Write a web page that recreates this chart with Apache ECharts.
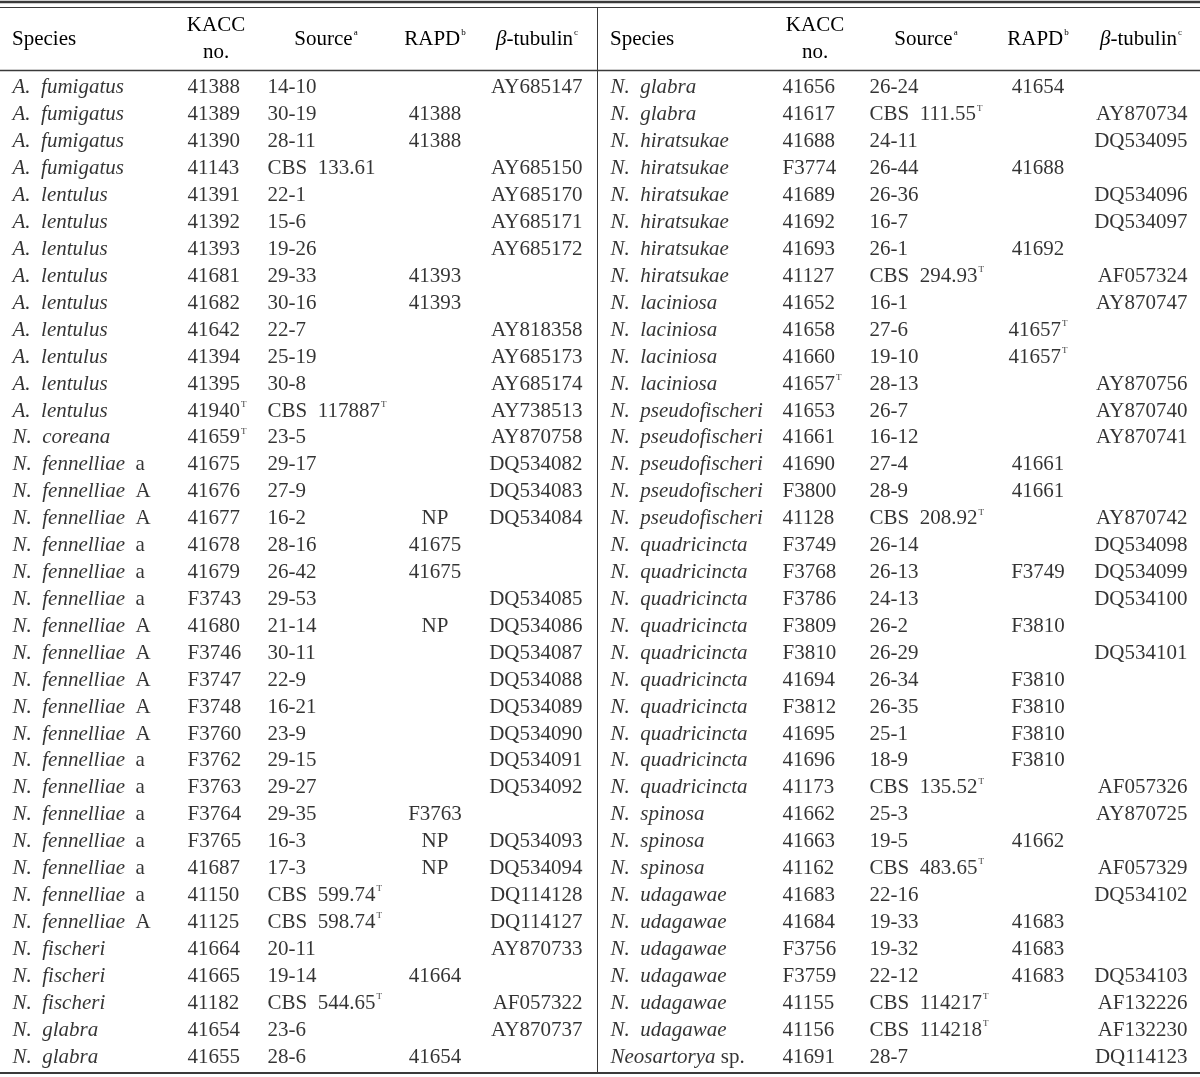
<!DOCTYPE html>
<html><head><meta charset="utf-8">
<script src="https://cdn.jsdelivr.net/npm/echarts@6/dist/echarts.min.js"></script>
<style>html,body{margin:0;padding:0;background:#fff}#c{width:1200px;height:1077px}</style>
</head><body><div id="c"></div>
<script>
// ---- data (left half) ----
const leftSpecies = [
 'A.  fumigatus','A.  fumigatus','A.  fumigatus','A.  fumigatus',
 'A.  lentulus','A.  lentulus','A.  lentulus','A.  lentulus','A.  lentulus','A.  lentulus','A.  lentulus','A.  lentulus','A.  lentulus',
 'N.  coreana',
 'N.  fennelliae|a','N.  fennelliae|A','N.  fennelliae|A','N.  fennelliae|a','N.  fennelliae|a','N.  fennelliae|a','N.  fennelliae|A','N.  fennelliae|A','N.  fennelliae|A','N.  fennelliae|A','N.  fennelliae|A','N.  fennelliae|a','N.  fennelliae|a','N.  fennelliae|a','N.  fennelliae|a','N.  fennelliae|a','N.  fennelliae|a','N.  fennelliae|A',
 'N.  fischeri','N.  fischeri','N.  fischeri',
 'N.  glabra','N.  glabra'];
const leftKacc = ['41388','41389','41390','41143','41391','41392','41393','41681','41682','41642','41394','41395','41940^T','41659^T','41675','41676','41677','41678','41679','F3743','41680','F3746','F3747','F3748','F3760','F3762','F3763','F3764','F3765','41687','41150','41125','41664','41665','41182','41654','41655'];
const leftSource = ['14-10','30-19','28-11','CBS  133.61','22-1','15-6','19-26','29-33','30-16','22-7','25-19','30-8','CBS  117887^T','23-5','29-17','27-9','16-2','28-16','26-42','29-53','21-14','30-11','22-9','16-21','23-9','29-15','29-27','29-35','16-3','17-3','CBS  599.74^T','CBS  598.74^T','20-11','19-14','CBS  544.65^T','23-6','28-6'];
const leftRapd = ['','41388','41388','','','','','41393','41393','','','','','','','','NP','41675','41675','','NP','','','','','','','F3763','NP','NP','','','','41664','','','41654'];
const leftTub = ['AY685147','','','AY685150','AY685170','AY685171','AY685172','','','AY818358','AY685173','AY685174','AY738513','AY870758','DQ534082','DQ534083','DQ534084','','','DQ534085','DQ534086','DQ534087','DQ534088','DQ534089','DQ534090','DQ534091','DQ534092','','DQ534093','DQ534094','DQ114128','DQ114127','AY870733','','AF057322','AY870737',''];
// ---- data (right half) ----
const rightSpecies = [
 'N.  glabra','N.  glabra',
 'N.  hiratsukae','N.  hiratsukae','N.  hiratsukae','N.  hiratsukae','N.  hiratsukae','N.  hiratsukae',
 'N.  laciniosa','N.  laciniosa','N.  laciniosa','N.  laciniosa',
 'N.  pseudofischeri','N.  pseudofischeri','N.  pseudofischeri','N.  pseudofischeri','N.  pseudofischeri',
 'N.  quadricincta','N.  quadricincta','N.  quadricincta','N.  quadricincta','N.  quadricincta','N.  quadricincta','N.  quadricincta','N.  quadricincta','N.  quadricincta','N.  quadricincta',
 'N.  spinosa','N.  spinosa','N.  spinosa',
 'N.  udagawae','N.  udagawae','N.  udagawae','N.  udagawae','N.  udagawae','N.  udagawae',
 'Neosartorya| sp.'];
const rightKacc = ['41656','41617','41688','F3774','41689','41692','41693','41127','41652','41658','41660','41657^T','41653','41661','41690','F3800','41128','F3749','F3768','F3786','F3809','F3810','41694','F3812','41695','41696','41173','41662','41663','41162','41683','41684','F3756','F3759','41155','41156','41691'];
const rightSource = ['26-24','CBS  111.55^T','24-11','26-44','26-36','16-7','26-1','CBS  294.93^T','16-1','27-6','19-10','28-13','26-7','16-12','27-4','28-9','CBS  208.92^T','26-14','26-13','24-13','26-2','26-29','26-34','26-35','25-1','18-9','CBS  135.52^T','25-3','19-5','CBS  483.65^T','22-16','19-33','19-32','22-12','CBS  114217^T','CBS  114218^T','28-7'];
const rightRapd = ['41654','','','41688','','','41692','','','41657^T','41657^T','','','','41661','41661','','','F3749','','F3810','','F3810','F3810','F3810','F3810','','','41662','','','41683','41683','41683','','',''];
const rightTub = ['','AY870734','DQ534095','','DQ534096','DQ534097','','AF057324','AY870747','','','AY870756','AY870740','AY870741','','','AY870742','DQ534098','DQ534099','DQ534100','','DQ534101','','','','','AF057326','AY870725','','AF057329','DQ534102','','','DQ534103','AF132226','AF132230','DQ114123'];
const headerLabels = ['Species','KACC|no.','Source^a','RAPD^b','β-tubulin^c'];

// ---- layout ----
const FONT = '"Liberation Serif","Times New Roman",serif';
const FS = 21;
const COLOR = '#000';
const LINE = '#3a3a3a';
const rich = {
  n: {fontFamily: FONT, fontSize: FS, color: COLOR, lineHeight: 22},
  i: {fontFamily: FONT, fontSize: FS, color: COLOR, fontStyle: 'italic', lineHeight: 22},
  s: {fontFamily: FONT, fontSize: 9, color: COLOR, lineHeight: 20, verticalAlign: 'top', padding: [0, 0, 0, 1]}
};
function fmtSpecies(v) {
  const p = v.split('|');
  return '{i|' + p[0] + '}' + (p[1] ? '{n|' + (p[1][0] === ' ' ? p[1] : '  ' + p[1]) + '}' : '');
}
function fmtPlain(v) {
  if (!v) return '';
  const p = v.split('^');
  return '{n|' + p[0] + '}' + (p[1] ? '{s|' + p[1] + '}' : '');
}
// column anchors: [x, position, formatter]
const halves = [
  {cols: [[12,'right',fmtSpecies],[187,'right',fmtPlain],[267,'right',fmtPlain],[435,'inside',fmtPlain],[583,'left',fmtPlain]],
   data: [leftSpecies, leftKacc, leftSource, leftRapd, leftTub],
   head: [12, 216, 326, 435, 537]},
  {cols: [[610,'right',fmtSpecies],[782,'right',fmtPlain],[869,'right',fmtPlain],[1038,'inside',fmtPlain],[1188,'left',fmtPlain]],
   data: [rightSpecies, rightKacc, rightSource, rightRapd, rightTub],
   head: [610, 815, 926, 1038, 1141]}
];
const rows = leftSpecies.map((_, i) => String(i));
const series = [];
halves.forEach(h => {
  h.cols.forEach((c, ci) => {
    const arr = h.data[ci];
    series.push({
      type: 'scatter', symbolSize: 1, silent: true,
      itemStyle: {color: 'rgba(0,0,0,0)'},
      data: arr.map((v, r) => ({value: [c[0], r], txt: v})).filter(d => d.txt),
      label: {show: true, position: c[1], distance: 0, rich: rich,
        formatter: p => c[2](p.data.txt)}
    });
  });
});
// header
const graphic = [];
halves.forEach(h => {
  headerLabels.forEach((t, k) => {
    let text, y = 39;
    if (t.indexOf('|') >= 0) {
      const p = t.split('|');
      graphic.push({type: 'text', style: {text: '{n|' + p[0] + '}', rich, x: h.head[k], y: 25, align: 'center', verticalAlign: 'middle'}});
      graphic.push({type: 'text', style: {text: '{n|' + p[1] + '}', rich, x: h.head[k], y: 52, align: 'center', verticalAlign: 'middle'}});
      return;
    }
    const p = t.split('^');
    let main = '{n|' + p[0] + '}';
    if (p[0].startsWith('β')) main = '{i|β}{n|' + p[0].slice(1) + '}';
    text = main + (p[1] ? '{s|' + p[1] + '}' : '');
    graphic.push({type: 'text', style: {text, rich, x: h.head[k], y, align: k === 0 ? 'left' : 'center', verticalAlign: 'middle'}});
  });
});
// rules
graphic.push({type: 'line', shape: {x1: 0, y1: 2, x2: 1200, y2: 2}, style: {stroke: LINE, lineWidth: 2.5}});
graphic.push({type: 'line', shape: {x1: 0, y1: 7.5, x2: 1200, y2: 7.5}, style: {stroke: LINE, lineWidth: 1}});
graphic.push({type: 'line', shape: {x1: 0, y1: 70.5, x2: 1200, y2: 70.5}, style: {stroke: LINE, lineWidth: 1.3}});
graphic.push({type: 'line', shape: {x1: 0, y1: 1073, x2: 1200, y2: 1073}, style: {stroke: LINE, lineWidth: 2}});
graphic.push({type: 'line', shape: {x1: 597.5, y1: 8, x2: 597.5, y2: 1072}, style: {stroke: LINE, lineWidth: 1}});

const chart = echarts.init(document.getElementById('c'), null, {renderer: 'canvas'});
chart.setOption({
  animation: false,
  grid: {left: 0, right: 0, top: 74.5, bottom: 6.5},
  xAxis: {type: 'value', min: 0, max: 1200, show: false},
  yAxis: {type: 'category', data: rows, inverse: true, show: false},
  series: series,
  graphic: graphic
});
</script></body></html>
